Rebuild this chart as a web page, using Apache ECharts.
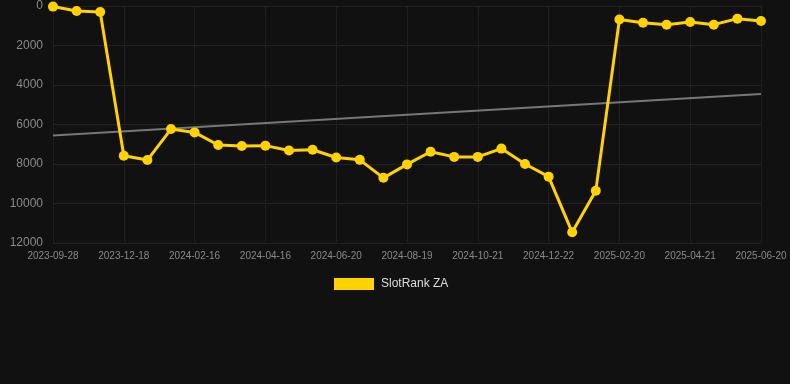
<!DOCTYPE html>
<html>
<head>
<meta charset="utf-8">
<script src="https://cdn.jsdelivr.net/npm/echarts@6/dist/echarts.min.js"></script>
<style>
html,body{margin:0;padding:0;background:#111111;}
#c{width:790px;height:384px;}
</style>
</head>
<body>
<div id="c"></div>
<script>
const categories = [
  "2023-09-28","2023-10-25","2023-11-21","2023-12-18","2024-01-07","2024-01-27",
  "2024-02-16","2024-03-07","2024-03-27","2024-04-16","2024-05-08","2024-05-29",
  "2024-06-20","2024-07-10","2024-07-30","2024-08-19","2024-09-09","2024-09-30",
  "2024-10-21","2024-11-11","2024-12-01","2024-12-22","2025-01-11","2025-01-31",
  "2025-02-20","2025-03-12","2025-04-01","2025-04-21","2025-05-11","2025-05-31",
  "2025-06-20"
];
const rankValues = [
  30, 250, 300, 7580, 7800, 6230,
  6400, 7040, 7090, 7070, 7320, 7280,
  7670, 7790, 8700, 8020, 7380, 7640,
  7640, 7220, 8000, 8640, 11460, 9350,
  680, 845, 945, 810, 945, 640,
  760
];
const trendStart = 6560;
const trendEnd = 4450;
const trendValues = categories.map((c, i) => i === 0 ? trendStart : (i === categories.length - 1 ? trendEnd : null));
const yTicks = [0, 2000, 4000, 6000, 8000, 10000, 12000];

const chart = echarts.init(document.getElementById('c'));
chart.setOption({
  backgroundColor: '#111111',
  animation: false,
  grid: { left: 53, right: 29, top: 6, bottom: 141 },
  legend: {
    data: ['SlotRank ZA'],
    top: 273,
    left: 329,
    itemWidth: 40,
    itemHeight: 12,
    itemGap: 10,
    icon: 'rect',
    textStyle: { color: '#dddddd', fontSize: 12, fontFamily: 'Liberation Sans, Arial, sans-serif', padding: [0, 0, 0, 2] }
  },
  xAxis: {
    type: 'category',
    data: categories,
    boundaryGap: false,
    axisLine: { show: true, lineStyle: { color: '#222222' } },
    axisTick: { show: true, interval: 2, lineStyle: { color: '#222222' } },
    axisLabel: { interval: 2, color: '#8a8a8a', fontSize: 10, margin: 8, fontFamily: 'Liberation Sans, Arial, sans-serif' },
    splitLine: { show: true, interval: 2, lineStyle: { color: '#1f1f1f' } }
  },
  yAxis: {
    type: 'value',
    inverse: true,
    min: yTicks[0],
    max: yTicks[yTicks.length - 1],
    interval: 2000,
    axisLine: { show: false },
    axisTick: { show: false },
    axisLabel: { color: '#8a8a8a', fontSize: 12, margin: 10, formatter: v => String(v), fontFamily: 'Liberation Sans, Arial, sans-serif' },
    splitLine: { show: true, lineStyle: { color: '#222222' } }
  },
  series: [
    {
      name: 'SlotRank ZA',
      type: 'line',
      data: rankValues,
      color: '#ffd200',
      lineStyle: { color: '#ffd200', width: 3 },
      itemStyle: { color: '#ffd200' },
      symbol: 'circle',
      symbolSize: 10,
      z: 3
    },
    {
      name: 'Trend',
      type: 'line',
      data: trendValues,
      connectNulls: true,
      symbol: 'none',
      lineStyle: { color: '#777777', width: 2 },
      z: 2
    }
  ]
});
</script>
</body>
</html>
